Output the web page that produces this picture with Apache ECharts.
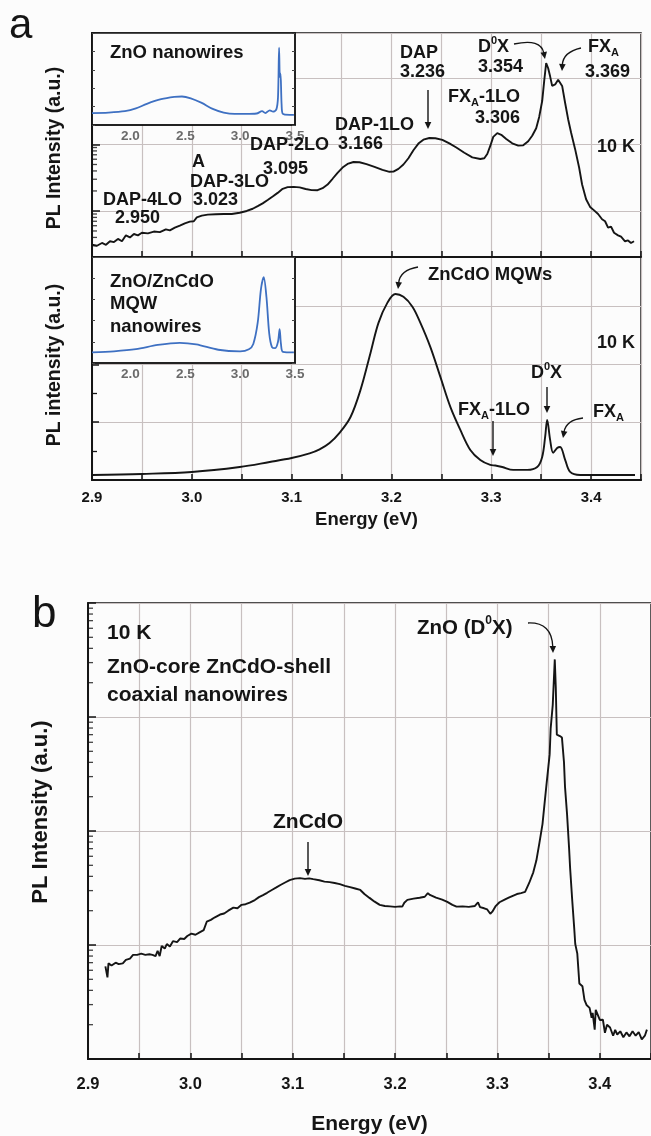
<!DOCTYPE html>
<html><head><meta charset="utf-8">
<script src="https://cdn.jsdelivr.net/npm/echarts@6/dist/echarts.min.js"></script>
<style>html,body{margin:0;padding:0;background:#fcfcfc}#c{width:651px;height:1136px}</style>
</head><body><div id="c"></div>
<script>
// ---------- DATA ----------
// Panel a, top: ZnO nanowires PL (log scale)
const topE = [2.900,2.905,2.910,2.914,2.918,2.922,2.926,2.930,2.934,2.938,2.942,2.946,2.950,2.956,2.962,2.968,2.974,2.978,2.983,2.988,2.993,2.998,3.002,3.005,3.010,3.016,3.024,3.032,3.040,3.048,3.055,3.061,3.066,3.071,3.076,3.081,3.086,3.091,3.096,3.102,3.108,3.114,3.120,3.126,3.131,3.136,3.141,3.146,3.151,3.156,3.162,3.168,3.175,3.183,3.191,3.198,3.202,3.207,3.212,3.217,3.222,3.227,3.232,3.238,3.244,3.251,3.258,3.265,3.273,3.281,3.289,3.293,3.296,3.299,3.302,3.306,3.310,3.315,3.321,3.327,3.332,3.337,3.341,3.345,3.348,3.351,3.353,3.355,3.357,3.359,3.361,3.364,3.367,3.369,3.371,3.374,3.377,3.380,3.384,3.388,3.391,3.395,3.399,3.403,3.407,3.411,3.414,3.417,3.420,3.423,3.427,3.430,3.434,3.437,3.440,3.443];
const topI = [3.1,3.0,3.3,3.1,3.5,3.4,3.8,3.5,4.3,4.0,4.5,4.3,4.7,4.6,4.9,4.8,5.3,5.1,5.6,6.0,6.5,6.9,7.0,8.0,8.5,8.8,8.9,9.0,9.0,9.4,10.0,10.8,11.8,13.0,14.6,16.5,18.7,21.5,22.8,23.0,22.6,21.4,20.6,20.5,22.0,25.0,30.5,37.5,45.0,51.0,54.5,54.0,50.5,46.0,41.5,38.8,39.0,43.0,50.0,62.0,82.0,103,118,125,124,117,104,90,75,64,60.5,62,72,95,130,148,140,121,104,96,97,112,135,175,260,450,900,1680,1400,1050,760,800,940,970,760,420,240,150,85,45,25,15,11.5,10.2,9.0,7.5,7.0,5.6,5.8,4.7,4.3,4.1,3.5,3.6,3.3,3.5];

// Panel a, bottom: ZnO/ZnCdO MQW nanowires PL (linear)
const botE = [2.900,2.950,3.000,3.048,3.078,3.100,3.118,3.128,3.138,3.148,3.159,3.169,3.179,3.187,3.196,3.204,3.212,3.221,3.229,3.239,3.249,3.259,3.269,3.279,3.289,3.299,3.304,3.311,3.322,3.336,3.346,3.351,3.354,3.356,3.359,3.362,3.366,3.369,3.374,3.379,3.389,3.444];
const botI = [0.087,0.105,0.139,0.225,0.312,0.38,0.46,0.53,0.64,0.815,1.09,1.56,2.20,2.72,3.07,3.22,3.17,3.00,2.72,2.30,1.785,1.265,0.867,0.52,0.347,0.26,0.25,0.225,0.175,0.175,0.225,0.40,0.75,1.04,0.69,0.47,0.555,0.572,0.35,0.14,0.087,0.087];

// Insets (full-range spectra)
const insTopE = [1.65,1.80,1.95,2.05,2.15,2.28,2.40,2.47,2.55,2.65,2.75,2.85,2.95,3.05,3.15,3.20,3.23,3.27,3.30,3.33,3.345,3.355,3.362,3.368,3.378,3.39,3.45,3.49];
const insTopI = [13,13.5,15,18,23,28,30.5,31,29,24,17.5,13.5,12,12,12.5,15,13,16,14.5,17,30,84,52,56,22,12,11,11];
const insBotE = [1.65,1.85,2.05,2.25,2.45,2.60,2.80,3.00,3.08,3.12,3.16,3.19,3.215,3.24,3.265,3.29,3.32,3.345,3.36,3.372,3.39,3.49];
const insBotI = [10,11,13,17,19,17.5,12.5,11,13,18,38,70,81,62,28,15,14,20,32,18,10.5,10];

// Panel b: ZnO-core ZnCdO-shell coaxial nanowires (log scale)
const bE = [2.917,2.919,2.920,2.923,2.927,2.930,2.934,2.937,2.941,2.944,2.948,2.952,2.956,2.960,2.963,2.966,2.968,2.970,2.972,2.975,2.977,2.980,2.983,2.987,2.990,2.994,2.997,3.001,3.005,3.009,3.013,3.016,3.020,3.024,3.029,3.033,3.037,3.042,3.046,3.050,3.054,3.058,3.063,3.067,3.071,3.075,3.080,3.084,3.088,3.093,3.097,3.102,3.107,3.112,3.116,3.120,3.126,3.131,3.136,3.141,3.146,3.151,3.156,3.161,3.166,3.170,3.175,3.180,3.185,3.190,3.195,3.200,3.205,3.207,3.209,3.212,3.218,3.224,3.229,3.232,3.234,3.240,3.246,3.251,3.256,3.260,3.266,3.272,3.278,3.281,3.283,3.287,3.290,3.293,3.295,3.298,3.302,3.307,3.311,3.315,3.319,3.323,3.327,3.331,3.335,3.338,3.341,3.344,3.346,3.348,3.351,3.352,3.354,3.356,3.357,3.358,3.361,3.363,3.365,3.366,3.368,3.370,3.371,3.373,3.375,3.376,3.378,3.380,3.383,3.385,3.387,3.390,3.392,3.393,3.395,3.396,3.397,3.400,3.403,3.405,3.407,3.410,3.413,3.415,3.417,3.420,3.423,3.426,3.429,3.432,3.435,3.438,3.441,3.444,3.446];
const bI = [6.5,5.2,6.9,6.6,7.0,6.8,6.9,7.4,7.6,8.2,8.2,8.4,8.2,8.3,8.2,8.0,8.9,8.0,9.8,9.3,10.2,9.7,10.8,10.6,11.4,11.3,12.0,12.6,12.3,12.9,13.5,16.0,16.6,17.5,18.5,18.9,20.0,21.3,21.0,22.5,22.8,23.5,24.8,26.3,27.4,28.7,30.5,32.0,33.6,35.5,37.1,38.2,38.6,38.0,38.4,37.8,37.0,36.0,35.6,35.0,34.2,33.0,32.2,31.3,30.4,28.0,25.9,24.0,22.5,22.0,21.8,21.6,21.8,21.7,23.5,24.9,25.5,26.0,26.5,28.5,27.5,26.0,25.0,23.9,22.5,21.7,21.8,21.6,22.0,23.6,21.5,21.0,20.5,18.8,19.6,21.8,23.7,25.0,26.0,27.0,28.0,28.5,29.2,35.0,43.4,55.0,78.8,115,174,260,470,800,1270,3200,1800,700,680,660,400,244,140,70,47,25,14,10.2,8.4,4.6,4.35,3.3,2.98,2.81,2.3,2.54,1.81,2.7,2.64,2.2,2.21,1.7,2.0,1.89,1.6,1.8,1.64,1.75,1.55,1.71,1.58,1.75,1.6,1.72,1.49,1.6,1.81];

// Tick values / labels
const energyTicks = [2.9,2.95,3.0,3.05,3.1,3.15,3.2,3.25,3.3,3.35,3.4,3.45];
const energyLabels = [2.9,3.0,3.1,3.2,3.3,3.4];
const insetLabels = [2.0,2.5,3.0,3.5];
const logMinorA = [3,4,5,6,7,8,9,20,30,40,50,60,70,80,90,200,300,400,500,600,700,800,900,2000,3000,4000];
const logMinorB = [2,3,4,5,6,7,8,9,20,30,40,50,60,70,80,90,200,300,400,500,600,700,800,900,2000,3000,4000,5000,6000,7000,8000,9000];

// ---------- STYLE ----------
const F = '"Liberation Sans", Arial, Helvetica, sans-serif';
const INK = '#151515';
const GRIDC = '#c8c0c0';
const BG = '#fcfcfc';
const BLUE = '#3e70c2';
const zip = (a, b) => a.map((v, i) => [v, b[i]]);
const fmt1 = v => Number(v).toFixed(1);

function energyX(gi, showLabels, labelSize, margin, nameGap, nameSize) {
  return {
    gridIndex: gi, type: 'value', min: 2.9, max: 3.45, interval: 0.1,
    axisLine: { show: true, onZero: false, lineStyle: { color: INK, width: 2 } },
    axisTick: { show: true, inside: true, length: 6, customValues: energyTicks, lineStyle: { color: INK, width: 1.5 } },
    axisLabel: showLabels ? { show: true, customValues: energyLabels, formatter: fmt1, color: INK, fontFamily: F, fontWeight: 'bold', fontSize: labelSize, margin: margin } : { show: false },
    splitLine: { show: true, lineStyle: { color: GRIDC, width: 1.2 } },
    name: showLabels ? 'Energy (eV)' : '', nameLocation: 'middle', nameGap: nameGap || 0,
    nameTextStyle: { color: INK, fontFamily: F, fontWeight: 'bold', fontSize: nameSize || 12 }
  };
}
function insetX(gi) {
  return {
    gridIndex: gi, type: 'value', min: 1.65, max: 3.5, z: 6,
    axisLine: { show: true, onZero: false, lineStyle: { color: INK, width: 1.5 } },
    axisTick: { show: false },
    axisLabel: { show: true, customValues: insetLabels, formatter: fmt1, color: '#6a6a6a', fontFamily: F, fontWeight: 'bold', fontSize: 13.5, margin: 4 },
    splitLine: { show: false }
  };
}
function insetY(gi, pos) {
  return {
    gridIndex: gi, type: 'value', min: 0, max: 100, interval: 20, position: pos, z: 6,
    axisLine: { show: true, lineStyle: { color: INK, width: 1.5 } },
    axisTick: { show: true, inside: true, length: 3, lineStyle: { color: '#444' } },
    axisLabel: { show: false }, splitLine: { show: false }
  };
}
function minorTicks(xi, yi, vals) {
  return {
    type: 'scatter', xAxisIndex: xi, yAxisIndex: yi, data: vals.map(v => [2.9, v]),
    symbol: 'rect', symbolSize: [5, 1.3], symbolOffset: [2.5, 0],
    itemStyle: { color: INK }, clip: false, silent: true, z: 4
  };
}

// ---------- ANNOTATIONS ----------
function rich(s) {
  return {
    n: { fontSize: s, fontWeight: 'bold', fontFamily: F, lineHeight: Math.round(s * 1.25) },
    sup: { fontSize: Math.round(s * 0.6), fontWeight: 'bold', fontFamily: F, verticalAlign: 'top', lineHeight: Math.round(s * 0.6) },
    sub: { fontSize: Math.round(s * 0.6), fontWeight: 'bold', fontFamily: F, verticalAlign: 'bottom', lineHeight: Math.round(s * 0.6) }
  };
}
function T(x, y, text, s, extra) {
  const isRich = text.indexOf('{') >= 0;
  const style = { text: text, fill: INK, align: 'left', verticalAlign: 'middle' };
  if (isRich) { style.rich = rich(s); }
  else { style.fontSize = s; style.fontWeight = 'bold'; style.fontFamily = F; }
  return Object.assign({ type: 'text', x: x, y: y, z: 20, style: style, silent: true }, extra || {});
}
function head(x2, y2, dx, dy) {
  const L = Math.hypot(dx, dy), ux = dx / L, uy = dy / L, len = 7, w = 3.3;
  const bx = x2 - ux * len, by = y2 - uy * len;
  return { type: 'polygon', z: 20, silent: true, shape: { points: [[x2, y2], [bx - uy * w, by + ux * w], [bx + uy * w, by - ux * w]] }, style: { fill: INK } };
}
function arrow(x1, y1, x2, y2) {
  const L = Math.hypot(x2 - x1, y2 - y1);
  const ex = x2 - (x2 - x1) / L * 6, ey = y2 - (y2 - y1) / L * 6;
  return [
    { type: 'line', z: 20, silent: true, shape: { x1: x1, y1: y1, x2: ex, y2: ey }, style: { stroke: INK, lineWidth: 1.4 } },
    head(x2, y2, x2 - x1, y2 - y1)
  ];
}
function curved(x1, y1, cx, cy, x2, y2) {
  const L = Math.hypot(x2 - cx, y2 - cy);
  const ex = x2 - (x2 - cx) / L * 6, ey = y2 - (y2 - cy) / L * 6;
  return [
    { type: 'bezierCurve', z: 20, silent: true, shape: { x1: x1, y1: y1, cpx1: cx, cpy1: cy, x2: ex, y2: ey }, style: { stroke: INK, lineWidth: 1.3, fill: null } },
    head(x2, y2, x2 - cx, y2 - cy)
  ];
}
function vtitle(x, y, text, s) {
  return { type: 'text', x: x, y: y, rotation: Math.PI / 2, z: 20, silent: true,
    style: { text: text, fill: INK, fontSize: s, fontWeight: 'bold', fontFamily: F, align: 'center', verticalAlign: 'middle' } };
}

const graphics = [
  { type: 'text', x: 9, y: 26, z: 20, silent: true, style: { text: 'a', fill: INK, fontSize: 42, fontFamily: F, align: 'left', verticalAlign: 'middle' } },
  { type: 'text', x: 32, y: 615, z: 20, silent: true, style: { text: 'b', fill: INK, fontSize: 44, fontFamily: F, align: 'left', verticalAlign: 'middle' } },
  vtitle(55, 148, 'PL Intensity (a.u.)', 19.5),
  vtitle(55, 365, 'PL intensity (a.u.)', 19.5),
  vtitle(41, 812, 'PL Intensity (a.u.)', 22),
  // panel a top
  T(110, 53, 'ZnO nanowires', 18.5),
  T(103, 200, 'DAP-4LO', 18), T(115, 218, '2.950', 18),
  T(192, 162, 'A', 18),
  T(190, 182, 'DAP-3LO', 18), T(193, 200, '3.023', 18),
  T(250, 145, 'DAP-2LO', 18), T(263, 169, '3.095', 18),
  T(335, 125, 'DAP-1LO', 18), T(338, 144, '3.166', 18),
  T(400, 53, 'DAP', 18), T(400, 72, '3.236', 18),
  ...arrow(428, 90, 428, 129),
  T(448, 97, '{n|FX}{sub|A}{n|-1LO}', 18), T(475, 118, '3.306', 18),
  T(478, 47, '{n|D}{sup|0}{n|X}', 18), T(478, 67, '3.354', 18),
  ...curved(514, 44, 541, 38, 545, 59),
  T(588, 47, '{n|FX}{sub|A}', 18), T(585, 72, '3.369', 18),
  ...curved(581, 48, 563, 52, 562, 71),
  T(597, 147, '10 K', 18),
  // panel a bottom
  T(110, 282, 'ZnO/ZnCdO', 18.5), T(110, 304, 'MQW', 18.5), T(110, 327, 'nanowires', 18.5),
  T(428, 275, 'ZnCdO MQWs', 18.5),
  ...curved(418, 267, 400, 270, 398, 289),
  T(597, 343, '10 K', 18),
  T(531, 373, '{n|D}{sup|0}{n|X}', 18),
  ...arrow(547, 387, 547, 413),
  T(458, 410, '{n|FX}{sub|A}{n|-1LO}', 18),
  ...arrow(493, 421, 493, 456),
  T(593, 412, '{n|FX}{sub|A}', 18),
  ...curved(583, 418, 566, 420, 563, 438),
  // panel b
  T(107, 633, '10 K', 21),
  T(107, 667, 'ZnO-core ZnCdO-shell', 21),
  T(107, 695, 'coaxial nanowires', 21),
  T(417, 628, '{n|ZnO (D}{sup|0}{n|X)}', 20.5),
  ...curved(528, 623, 552, 622, 553, 653),
  T(273, 822, 'ZnCdO', 21),
  ...arrow(308, 842, 308, 876)
];

// ---------- CHART ----------
const chart = echarts.init(document.getElementById('c'), null, { renderer: 'canvas' });
chart.setOption({
  backgroundColor: BG,
  animation: false,
  grid: [
    { left: 92, top: 33, width: 549, height: 224, show: true, borderColor: INK, borderWidth: 1.5, backgroundColor: 'transparent' },
    { left: 92, top: 257, width: 549, height: 223, show: true, borderColor: INK, borderWidth: 1.5, backgroundColor: 'transparent' },
    { left: 92, top: 33, width: 203, height: 92, show: true, borderColor: INK, borderWidth: 1.5, backgroundColor: BG, z: 5 },
    { left: 92, top: 257, width: 203, height: 106, show: true, borderColor: INK, borderWidth: 1.5, backgroundColor: BG, z: 5 },
    { left: 88, top: 603, width: 563, height: 464, show: true, borderColor: INK, borderWidth: 1.5, backgroundColor: 'transparent' }
  ],
  xAxis: [
    energyX(0, false),
    energyX(1, true, 15, 10, 30, 18.5),
    insetX(2),
    insetX(3),
    energyX(4, true, 16.5, 17, 55, 21)
  ],
  yAxis: [
    { gridIndex: 0, type: 'log', logBase: 10, min: 2.03, max: 4750,
      axisLine: { show: true, lineStyle: { color: INK, width: 2 } },
      axisTick: { show: true, inside: true, length: 8, lineStyle: { color: INK, width: 1.5 } },
      axisLabel: { show: false }, splitLine: { show: true, lineStyle: { color: GRIDC, width: 1.2 } } },
    { gridIndex: 1, type: 'value', min: 0, max: 3.86, interval: 1,
      axisLine: { show: true, lineStyle: { color: INK, width: 2 } },
      axisTick: { show: true, inside: true, length: 7, lineStyle: { color: INK, width: 1.5 } },
      minorTick: { show: true, splitNumber: 2, length: 5, lineStyle: { color: INK, width: 1.3 } },
      axisLabel: { show: false }, splitLine: { show: true, lineStyle: { color: GRIDC, width: 1.2 } } },
    insetY(2, 'left'), insetY(2, 'right'),
    insetY(3, 'left'), insetY(3, 'right'),
    { gridIndex: 4, type: 'log', logBase: 10, min: 1, max: 10000,
      axisLine: { show: true, lineStyle: { color: INK, width: 2 } },
      axisTick: { show: true, inside: true, length: 8, lineStyle: { color: INK, width: 1.5 } },
      axisLabel: { show: false }, splitLine: { show: true, lineStyle: { color: GRIDC, width: 1.2 } } }
  ],
  series: [
    { type: 'line', xAxisIndex: 0, yAxisIndex: 0, data: zip(topE, topI), showSymbol: false, z: 3,
      lineStyle: { color: INK, width: 1.9 } },
    { type: 'line', xAxisIndex: 1, yAxisIndex: 1, data: zip(botE, botI), showSymbol: false, smooth: 0.35, z: 3,
      lineStyle: { color: INK, width: 1.9 } },
    { type: 'line', xAxisIndex: 2, yAxisIndex: 2, data: zip(insTopE, insTopI), showSymbol: false, smooth: 0.3, z: 7,
      lineStyle: { color: BLUE, width: 1.8 } },
    { type: 'line', xAxisIndex: 3, yAxisIndex: 4, data: zip(insBotE, insBotI), showSymbol: false, smooth: 0.3, z: 7,
      lineStyle: { color: BLUE, width: 1.8 } },
    { type: 'line', xAxisIndex: 4, yAxisIndex: 6, data: zip(bE, bI), showSymbol: false, z: 3,
      lineStyle: { color: INK, width: 1.9 } },
    minorTicks(0, 0, logMinorA),
    minorTicks(4, 6, logMinorB)
  ],
  graphic: graphics
});
</script>
</body></html>
